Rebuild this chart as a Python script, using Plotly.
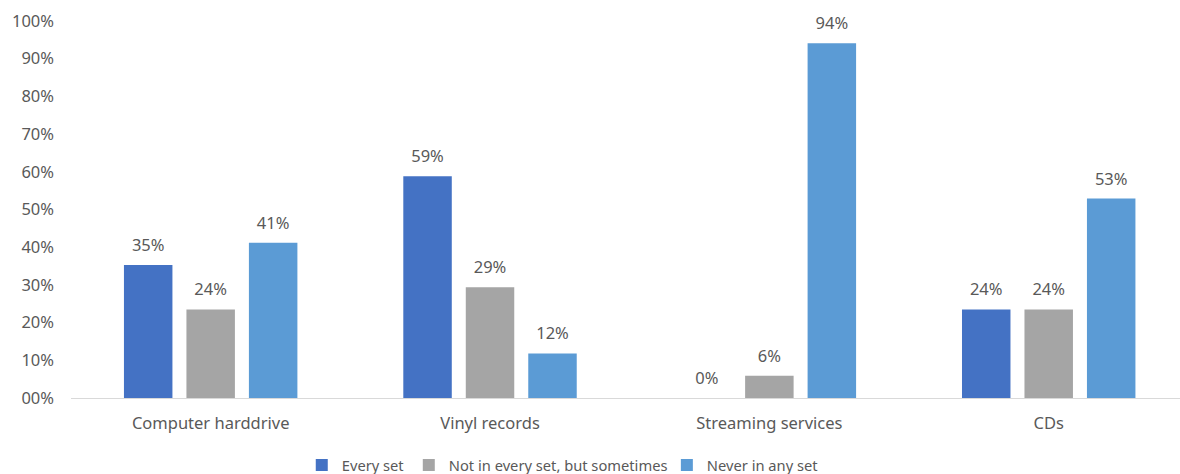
import plotly.graph_objects as go

categories = ["Computer harddrive", "Vinyl records", "Streaming services", "CDs"]
series_names = ["Every set", "Not in every set, but sometimes", "Never in any set"]
every_set = [0.353, 0.588, 0.0, 0.235]
sometimes = [0.235, 0.294, 0.059, 0.235]
never = [0.412, 0.118, 0.941, 0.529]
colors = ["#4472C4", "#A5A5A5", "#5B9BD5"]
tick_vals = [i / 10 for i in range(11)]
tick_text = ["00%", "10%", "20%", "30%", "40%", "50%", "60%", "70%", "80%", "90%", "100%"]

FONT = "Noto Sans"
TXT = "#595959"
GAP = 0.329
LABEL_PAD = 0.016  # spacing between bar top and its value label (axis units)

legend_ids = ["legend", "legend2", "legend3"]
legend_px = [302, 409, 667]
PLOT_L, PLOT_W = 71.3, 1108.7

fig = go.Figure()
for i, (name, vals, col) in enumerate(zip(series_names, [every_set, sometimes, never], colors)):
    fig.add_trace(go.Bar(
        name=name, x=categories, y=vals,
        marker=dict(color=col, line=dict(width=0)),
        offsetgroup=str(i), legend=legend_ids[i],
    ))
for i, vals in enumerate([every_set, sometimes, never]):
    fig.add_trace(go.Bar(
        x=categories, y=[LABEL_PAD] * len(vals), base=vals, customdata=vals,
        marker=dict(color="rgba(0,0,0,0)", line=dict(width=0)),
        texttemplate="%{customdata:.0%}", textposition="outside",
        textfont=dict(family=FONT, size=16.5, color=TXT),
        outsidetextfont=dict(family=FONT, size=16.5, color=TXT),
        offsetgroup=str(i), showlegend=False, hoverinfo="skip", cliponaxis=False,
    ))

layout_legends = {}
for lid, px in zip(legend_ids, legend_px):
    layout_legends[lid] = dict(
        orientation="h", x=(px - PLOT_L) / PLOT_W, xanchor="left",
        yref="container", y=0.053, yanchor="top",
        font=dict(family=FONT, size=14.7, color=TXT),
        itemwidth=30, bgcolor="rgba(0,0,0,0)",
    )

fig.update_layout(
    width=1180, height=474,
    margin=dict(l=PLOT_L, r=0, t=21, b=76, pad=0),
    paper_bgcolor="white", plot_bgcolor="white",
    barmode="group", bargap=GAP, bargroupgap=0.224,
    font=dict(family=FONT, size=16.5, color=TXT),
    showlegend=True,
    uniformtext=dict(mode=False),
    **layout_legends,
)
fig.update_xaxes(
    type="category", range=[-0.5, 3.47], showgrid=False,
    showline=True, linecolor="#D9D9D9", linewidth=1, ticks="",
    tickfont=dict(family=FONT, size=16.5, color=TXT), ticklabelstandoff=10,
)
fig.update_yaxes(
    range=[0, 1], tickvals=tick_vals, ticktext=tick_text, showgrid=False,
    zeroline=False, showline=False, ticks="",
    tickfont=dict(family=FONT, size=16.5, color=TXT), ticklabelstandoff=16,
)
fig.write_html("out.html")
